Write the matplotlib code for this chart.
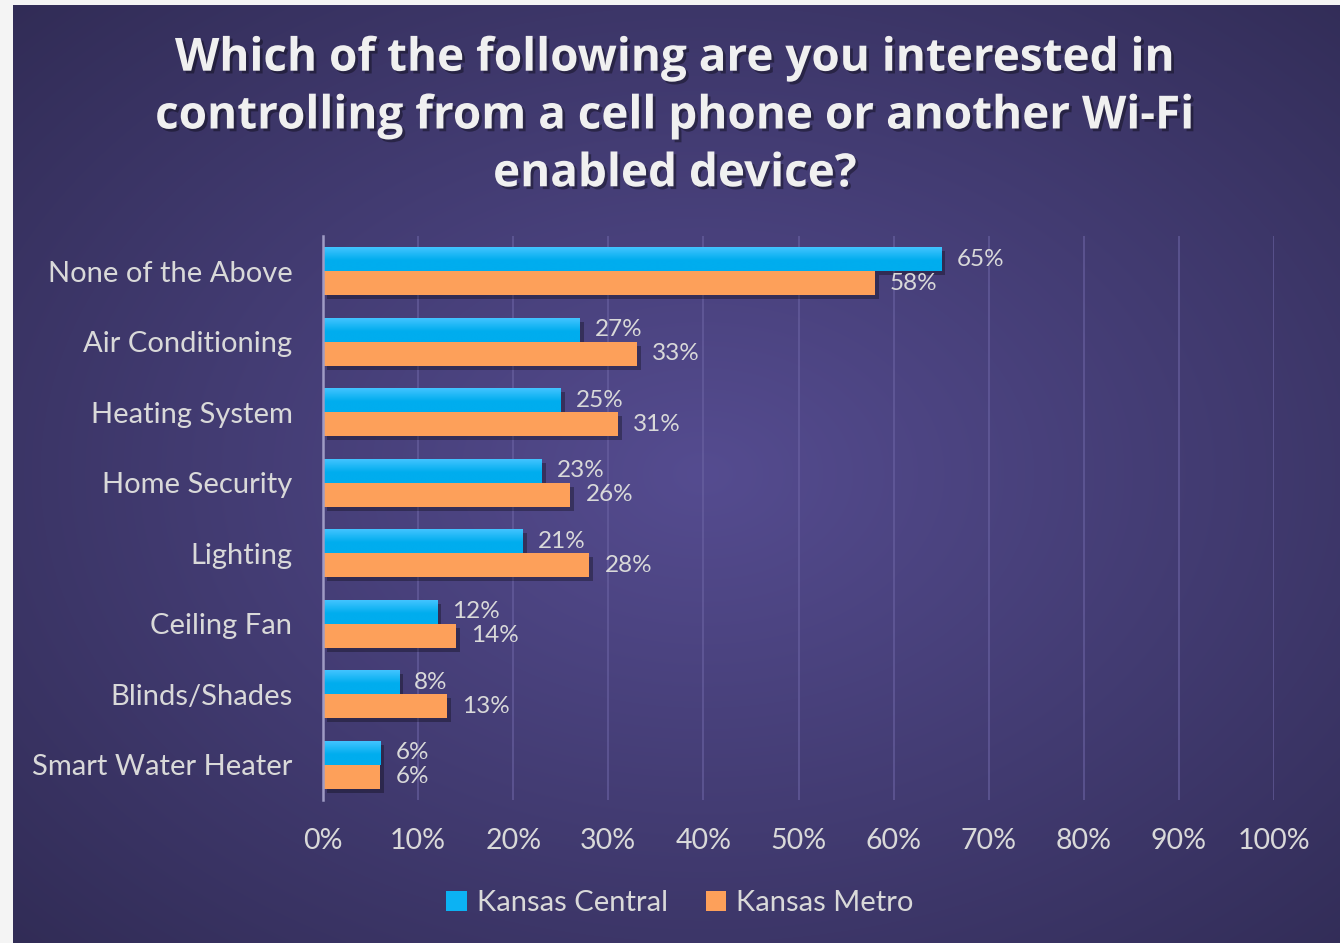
import numpy as np
import matplotlib
matplotlib.use("Agg")
import matplotlib.pyplot as plt
import matplotlib.patheffects as pe
from matplotlib.ticker import PercentFormatter

categories = ["None of the Above", "Air Conditioning", "Heating System", "Home Security",
              "Lighting", "Ceiling Fan", "Blinds/Shades", "Smart Water Heater"]
central = [65, 27, 25, 23, 21, 12, 8, 6]
metro = [58, 33, 31, 26, 28, 14, 13, 6]
series_names = ["Kansas Central", "Kansas Metro"]
title = "Which of the following are you interested in\ncontrolling from a cell phone or another Wi-Fi\nenabled device?"

W, H = 1340, 943
fig = plt.figure(figsize=(W / 100, H / 100), dpi=100)
fig.patch.set_facecolor("#f4f4f4")

# purple radial background
bg = fig.add_axes([13 / W, 0, 1 - 13 / W, 1 - 5 / H])
yy, xx = np.mgrid[0:1:400j, 0:1:560j]
r = np.sqrt(((xx - 0.52) / 0.75) ** 2 + ((yy - 0.5) / 0.75) ** 2)
r = np.clip(r, 0, 1)
c_in = np.array([0x55, 0x4c, 0x90]) / 255
c_out = np.array([0x30, 0x2b, 0x54]) / 255
img = c_in[None, None, :] * (1 - r[..., None]) + c_out[None, None, :] * r[..., None]
bg.imshow(img, aspect="auto", extent=[0, 1, 0, 1], interpolation="bilinear")
bg.axis("off")

ax = fig.add_axes([323 / W, 1 - 800 / H, (1274 - 323) / W, (800 - 236) / H])
ax.patch.set_alpha(0)
y = np.arange(len(categories))
h = 0.34
shadow = [pe.SimplePatchShadow(offset=(3, -3), shadow_rgbFace="black", alpha=0.3), pe.Normal()]
b1 = ax.barh(y - h / 2, central, height=h, color="#0cb2f3", label=series_names[0], zorder=3)
b2 = ax.barh(y + h / 2, metro, height=h, color="#fda05a", label=series_names[1], zorder=3)
for bars in (b1, b2):
    for p in bars:
        p.set_path_effects(shadow)

# vertical gradient on blue bars
t = np.linspace(0, 1, 50)[:, None]
top_c = np.array([0x42, 0xc4, 0xff]) / 255
bot_c = np.array([0x00, 0xad, 0xee]) / 255
frac = np.clip(t / 0.55, 0, 1)
grad = top_c[None, None, :] * (1 - frac[..., None]) + bot_c[None, None, :] * frac[..., None]
for yi, v in zip(y, central):
    ax.imshow(grad, aspect="auto", extent=[0, v, yi, yi - h], origin="upper",
              interpolation="bilinear", zorder=3.1)

for yi, v in zip(y, central):
    ax.text(v + 1.6, yi - h / 2, f"{v}%", va="center", ha="left", fontsize=17.5,
            color="#d9d9d9", family="Lato", zorder=5)
for yi, v in zip(y, metro):
    ax.text(v + 1.6, yi + h / 2, f"{v}%", va="center", ha="left", fontsize=17.5,
            color="#d9d9d9", family="Lato", zorder=5)

ax.set_xlim(0, 100)
ax.set_ylim(len(categories) - 0.5, -0.5)
ax.set_xticks(np.arange(0, 101, 10))
ax.xaxis.set_major_formatter(PercentFormatter(decimals=0))
ax.set_yticks(y)
ax.set_yticklabels(categories)
ax.grid(axis="x", color="#6b63a3", linewidth=1.2, alpha=0.7, zorder=0)
for s in ["top", "right", "bottom"]:
    ax.spines[s].set_visible(False)
ax.spines["left"].set_color("#9f9bc4")
ax.spines["left"].set_linewidth(1.8)
ax.spines["left"].set_zorder(4)
ax.tick_params(length=0, colors="#d9d9d9")
ax.tick_params(axis="x", pad=20, labelsize=20.5)
ax.tick_params(axis="y", pad=22, labelsize=21)
for lab in ax.get_xticklabels() + ax.get_yticklabels():
    lab.set_family("Lato")

fig.text(675 / W, 1 - 116 / H, title, ha="center", va="center", fontsize=33,
         fontweight="bold", color="#f0f0f0", family="Open Sans", linespacing=1.3,
         path_effects=[pe.withSimplePatchShadow(offset=(2, -2), shadow_rgbFace="black", alpha=0.35)])

leg = fig.legend(handles=[b1, b2], labels=series_names, loc="center", ncol=2,
                 bbox_to_anchor=(680 / W, 1 - 903 / H), frameon=False,
                 handlelength=0.7, handleheight=0.7, columnspacing=1.3, handletextpad=0.35,
                 labelcolor="#d9d9d9", prop={"family": "Lato", "size": 21})
for hnd in leg.legend_handles:
    hnd.set_path_effects([])

fig.savefig("out.png", dpi=100, facecolor=fig.get_facecolor())
